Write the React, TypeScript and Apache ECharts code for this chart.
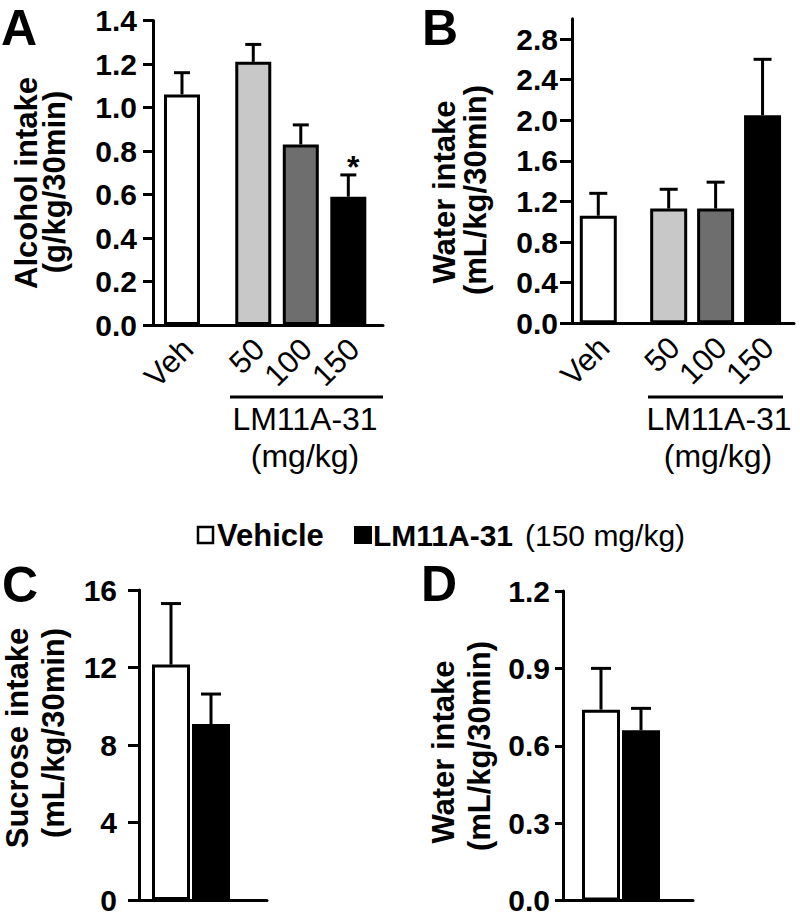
import React, { useEffect, useRef } from "react";
import * as echarts from "echarts";

// ---------- data ----------
const doseCategories = ["Veh", "50", "100", "150"];
const alcoholMean = [1.06, 1.21, 0.83, 0.59];
const alcoholSem = [0.1, 0.08, 0.09, 0.1];
const alcoholSig = ["", "", "", "*"];
const waterDoseMean = [1.06, 1.13, 1.13, 2.05];
const waterDoseSem = [0.22, 0.19, 0.26, 0.55];

const pairGroups = ["Vehicle", "LM11A-31 (150 mg/kg)"];
const sucroseMean = [12.15, 9.08];
const sucroseSem = [3.15, 1.55];
const waterPairMean = [0.74, 0.66];
const waterPairSem = [0.16, 0.085];

const alcoholTicks = [0, 0.2, 0.4, 0.6, 0.8, 1.0, 1.2, 1.4];
const waterDoseTicks = [0, 0.4, 0.8, 1.2, 1.6, 2.0, 2.4, 2.8];
const sucroseTicks = [0, 4, 8, 12, 16];
const waterPairTicks = [0, 0.3, 0.6, 0.9, 1.2];

// ---------- layout / style ----------
const doseSlots = [0, 1.5, 2.5, 3.5];
const labelShift = 0.12;
const pairSlots = [0, 1];
const doseColors = ["#ffffff", "#c8c8c8", "#6e6e6e", "#000000"];
const pairColors = ["#ffffff", "#000000"];
const FONT = "'Liberation Sans', Arial, Helvetica, sans-serif";

function yAxis(gridIndex: number, max: number, ticks: number[], digits: number, margin: number, tickLen: number) {
  return {
    gridIndex,
    type: "value",
    min: 0,
    max,
    axisLine: { show: true, onZero: false, lineStyle: { color: "#000", width: 3 } },
    axisTick: { show: true, inside: false, length: tickLen, customValues: ticks, lineStyle: { color: "#000", width: 3 } },
    axisLabel: {
      customValues: ticks,
      margin,
      color: "#000",
      fontWeight: "bold",
      fontSize: 30,
      fontFamily: FONT,
      formatter: (v: number) => v.toFixed(digits),
    },
    splitLine: { show: false },
  };
}

function xAxis(gridIndex: number, min: number, max: number, labels: string[] | null, slots: number[]) {
  const labelPos = slots.map((s) => s + labelShift);
  return {
    gridIndex,
    type: "value",
    min,
    max,
    axisLine: { show: true, onZero: false, lineStyle: { color: "#000", width: 3 } },
    axisTick: { show: false },
    splitLine: { show: false },
    axisLabel: labels
      ? {
          show: true,
          customValues: labelPos,
          rotate: 45,
          margin: 19,
          color: "#000",
          fontSize: 31,
          fontFamily: FONT,
          formatter: (v: number) => {
            const i = labelPos.findIndex((s) => Math.abs(s - v) < 1e-6);
            return i >= 0 ? labels[i] : "";
          },
        }
      : { show: false },
  };
}

function barSeries(idx: number, slots: number[], means: number[], colors: string[], barWidth: number, names: string[]) {
  return {
    type: "bar",
    xAxisIndex: idx,
    yAxisIndex: idx,
    barWidth,
    z: 3,
    itemStyle: { borderColor: "#000", borderWidth: 3 },
    data: means.map((m, i) => ({ name: names[i], value: [slots[i], m], itemStyle: { color: colors[i] } })),
  };
}

function errSeries(idx: number, slots: number[], means: number[], sems: number[], capHalf: number, sig?: string[]) {
  return {
    type: "custom",
    xAxisIndex: idx,
    yAxisIndex: idx,
    z: 2,
    clip: false,
    data: means.map((m, i) => [slots[i], m, sems[i]]),
    renderItem: (params: any, api: any) => {
      const x = api.value(0);
      const y = api.value(1);
      const e = api.value(2);
      const base = api.coord([x, y]);
      const top = api.coord([x, y + e]);
      const children: any[] = [
        { type: "line", shape: { x1: base[0], y1: base[1], x2: top[0], y2: top[1] }, style: { stroke: "#000", lineWidth: 3 } },
        { type: "line", shape: { x1: top[0] - capHalf, y1: top[1], x2: top[0] + capHalf, y2: top[1] }, style: { stroke: "#000", lineWidth: 3 } },
      ];
      const s = sig ? sig[params.dataIndex] : "";
      if (s) {
        children.push({
          type: "text",
          style: { text: s, x: top[0] + 5, y: top[1] - 8, align: "center", verticalAlign: "middle", font: `bold 32px ${FONT}`, fill: "#000" },
        });
      }
      return { type: "group", children };
    },
  };
}

function vText(text: string, x: number, y: number, size = 31) {
  return {
    type: "text",
    x,
    y,
    rotation: Math.PI / 2,
    style: { text, align: "center", verticalAlign: "middle", font: `bold ${size}px ${FONT}`, fill: "#000" },
  };
}

function hText(text: string, x: number, y: number, font: string, align = "left") {
  return { type: "text", x, y, style: { text, align, verticalAlign: "middle", font, fill: "#000" } };
}

export default function App() {
  const ref = useRef<HTMLDivElement>(null);
  useEffect(() => {
    if (!ref.current) return;
    const chart = echarts.init(ref.current, null, { renderer: "svg" });
    const option: any = {
      animation: false,
      backgroundColor: "#ffffff",
      grid: [
        { left: 153, top: 20.5, width: 230, height: 304.5, outerBoundsMode: "none" },
        { left: 572, top: 18.7, width: 222, height: 304.6, outerBoundsMode: "none" },
        { left: 139, top: 590, width: 128, height: 310, outerBoundsMode: "none" },
        { left: 563, top: 591, width: 130, height: 309.5, outerBoundsMode: "none" },
      ],
      xAxis: [
        xAxis(0, -0.61, 4.23, doseCategories, doseSlots),
        xAxis(1, -0.56, 4.17, doseCategories, doseSlots),
        xAxis(2, -0.8, 2.4, null, pairSlots),
        xAxis(3, -0.95, 2.3, null, pairSlots),
      ],
      yAxis: [
        yAxis(0, 1.4, alcoholTicks, 1, 16, 10),
        yAxis(1, 3.0, waterDoseTicks, 1, 14, 12),
        yAxis(2, 16, sucroseTicks, 0, 22, 11),
        yAxis(3, 1.2, waterPairTicks, 1, 13, 8),
      ],
      series: [
        barSeries(0, doseSlots, alcoholMean, doseColors, 36, doseCategories),
        errSeries(0, doseSlots, alcoholMean, alcoholSem, 8, alcoholSig),
        barSeries(1, doseSlots, waterDoseMean, doseColors, 37, doseCategories),
        errSeries(1, doseSlots, waterDoseMean, waterDoseSem, 9),
        barSeries(2, pairSlots, sucroseMean, pairColors, 38, pairGroups),
        errSeries(2, pairSlots, sucroseMean, sucroseSem, 10),
        barSeries(3, pairSlots, waterPairMean, pairColors, 38, pairGroups),
        errSeries(3, pairSlots, waterPairMean, waterPairSem, 10),
      ],
      graphic: [
        // panel letters
        hText("A", 1, 28, `bold 50px ${FONT}`),
        hText("B", 422, 28, `bold 50px ${FONT}`),
        hText("C", 2, 585, `bold 50px ${FONT}`),
        hText("D", 421, 584, `bold 50px ${FONT}`),
        // y titles
        vText("Alcohol intake", 26, 183),
        vText("(g/kg/30min)", 54, 182),
        vText("Water intake", 444, 192),
        vText("(mL/kg/30min)", 475, 190),
        vText("Sucrose intake", 17, 738),
        vText("(mL/kg/30min)", 53, 733),
        vText("Water intake", 443, 752),
        vText("(mL/kg/30min)", 479, 746),
        // dose group brackets
        { type: "line", shape: { x1: 230, y1: 397, x2: 383, y2: 397 }, style: { stroke: "#000", lineWidth: 3 } },
        hText("LM11A-31", 305, 419, `32px ${FONT}`, "center"),
        hText("(mg/kg)", 305, 456, `32px ${FONT}`, "center"),
        { type: "line", shape: { x1: 648, y1: 397, x2: 783, y2: 397 }, style: { stroke: "#000", lineWidth: 3 } },
        hText("LM11A-31", 719, 419, `32px ${FONT}`, "center"),
        hText("(mg/kg)", 718, 456, `32px ${FONT}`, "center"),
        // legend
        { type: "rect", shape: { x: 198, y: 527, width: 15, height: 16 }, style: { fill: "#fff", stroke: "#000", lineWidth: 2.5 } },
        hText("Vehicle", 217, 535, `bold 31px ${FONT}`),
        { type: "rect", shape: { x: 354, y: 526, width: 18, height: 18 }, style: { fill: "#000" } },
        hText("LM11A-31", 373, 535, `bold 30px ${FONT}`),
        hText("(150 mg/kg)", 525, 535, `30px ${FONT}`),
      ],
    };
    chart.setOption(option);
    return () => chart.dispose();
  }, []);
  return <div ref={ref} style={{ position: "absolute", left: 0, top: 0, width: 800, height: 918 }} />;
}
